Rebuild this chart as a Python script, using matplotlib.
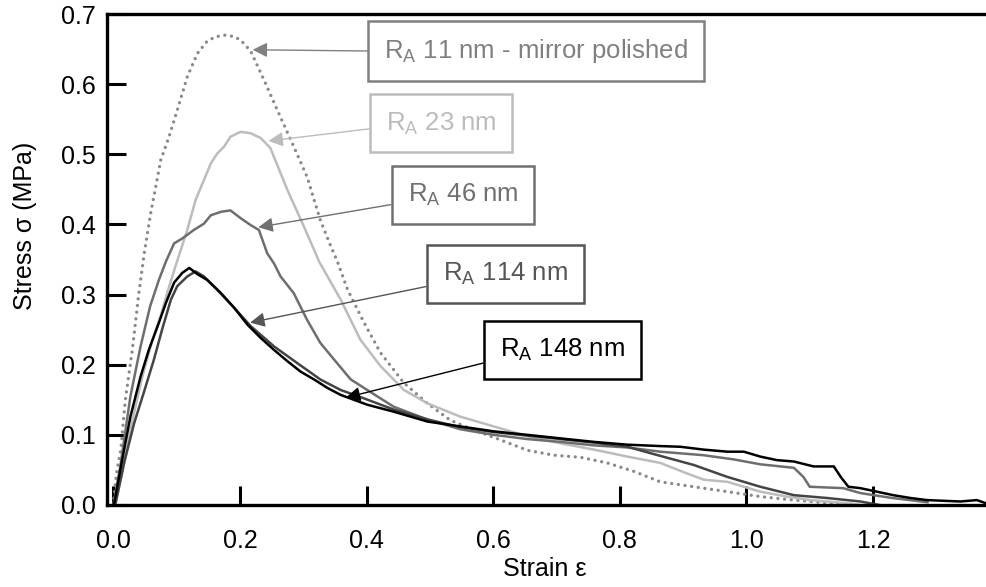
import matplotlib
matplotlib.use("Agg")
import matplotlib.pyplot as plt

plt.rcParams['font.family'] = ['Liberation Sans', 'DejaVu Sans']
plt.rcParams['mathtext.fontset'] = 'custom'
plt.rcParams['mathtext.rm'] = 'Liberation Sans'
plt.rcParams['mathtext.it'] = 'Liberation Sans:italic'
plt.rcParams['mathtext.default'] = 'regular'

# ---- data ----
x11 = [0.0, 0.003, 0.006, 0.012, 0.016, 0.019, 0.027, 0.030, 0.040, 0.049, 0.059, 0.075, 0.088, 0.101,
       0.117, 0.133, 0.148, 0.160, 0.175, 0.190, 0.201, 0.217, 0.238, 0.259, 0.285, 0.306, 0.327, 0.343,
       0.354, 0.370, 0.396, 0.422, 0.459, 0.496, 0.532, 0.569, 0.611, 0.654, 0.696, 0.738, 0.780, 0.822,
       0.864, 0.917, 0.970, 1.022, 1.075, 1.127, 1.17]
y11 = [0.0, 0.03, 0.05, 0.08, 0.121, 0.15, 0.202, 0.221, 0.30, 0.36, 0.416, 0.492, 0.525, 0.563,
       0.611, 0.644, 0.661, 0.667, 0.670, 0.668, 0.663, 0.647, 0.606, 0.563, 0.511, 0.468, 0.406, 0.370,
       0.347, 0.307, 0.260, 0.217, 0.174, 0.145, 0.121, 0.107, 0.093, 0.078, 0.071, 0.068, 0.060, 0.048,
       0.033, 0.026, 0.019, 0.012, 0.007, 0.003, 0.001]

x23 = [0.003, 0.015, 0.030, 0.045, 0.060, 0.075, 0.085, 0.098, 0.106, 0.117, 0.130, 0.143, 0.154, 0.164,
       0.175, 0.185, 0.201, 0.217, 0.233, 0.248, 0.275, 0.301, 0.317, 0.325, 0.359, 0.390, 0.422, 0.459,
       0.496, 0.548, 0.601, 0.654, 0.706, 0.759, 0.812, 0.864, 0.906, 0.933, 0.970, 0.996, 1.022, 1.064,
       1.101, 1.153, 1.18]
y23 = [0.0, 0.05, 0.12, 0.18, 0.23, 0.27, 0.302, 0.340, 0.362, 0.393, 0.435, 0.463, 0.487, 0.501,
       0.511, 0.525, 0.532, 0.530, 0.523, 0.509, 0.449, 0.397, 0.364, 0.347, 0.293, 0.236, 0.198, 0.164,
       0.145, 0.126, 0.112, 0.098, 0.088, 0.079, 0.069, 0.060, 0.045, 0.036, 0.033, 0.026, 0.019, 0.012,
       0.007, 0.003, 0.0]

x46 = [0.0, 0.011, 0.027, 0.043, 0.058, 0.072, 0.083, 0.096, 0.109, 0.127, 0.143, 0.154, 0.170, 0.185,
       0.201, 0.217, 0.230, 0.243, 0.254, 0.264, 0.285, 0.306, 0.327, 0.349, 0.375, 0.401, 0.443, 0.496,
       0.548, 0.601, 0.654, 0.706, 0.759, 0.812, 0.864, 0.932, 0.98, 1.022, 1.075, 1.09, 1.10, 1.153,
       1.18, 1.23, 1.286]
y46 = [0.0, 0.055, 0.155, 0.226, 0.283, 0.321, 0.347, 0.373, 0.380, 0.392, 0.401, 0.413, 0.418, 0.420,
       0.409, 0.399, 0.392, 0.359, 0.344, 0.326, 0.302, 0.264, 0.231, 0.207, 0.179, 0.164, 0.140, 0.122,
       0.108, 0.100, 0.094, 0.090, 0.085, 0.082, 0.076, 0.071, 0.065, 0.058, 0.053, 0.040, 0.026, 0.024,
       0.017, 0.010, 0.004]

x114 = [0.003, 0.017, 0.033, 0.048, 0.064, 0.077, 0.091, 0.101, 0.117, 0.130, 0.143, 0.164, 0.191, 0.217,
        0.254, 0.291, 0.327, 0.359, 0.396, 0.443, 0.496, 0.548, 0.601, 0.654, 0.706, 0.759, 0.812, 0.864,
        0.917, 0.970, 1.022, 1.075, 1.127, 1.18, 1.21]
y114 = [0.0, 0.060, 0.117, 0.160, 0.207, 0.250, 0.293, 0.312, 0.326, 0.333, 0.326, 0.307, 0.281, 0.255,
        0.226, 0.202, 0.179, 0.164, 0.152, 0.136, 0.122, 0.111, 0.104, 0.099, 0.094, 0.089, 0.083, 0.070,
        0.057, 0.040, 0.026, 0.014, 0.010, 0.005, 0.0]

x148 = [0.001, 0.012, 0.027, 0.043, 0.056, 0.070, 0.083, 0.096, 0.109, 0.120, 0.133, 0.148, 0.170, 0.191,
        0.212, 0.233, 0.254, 0.275, 0.296, 0.317, 0.338, 0.359, 0.380, 0.401, 0.443, 0.496, 0.548, 0.601,
        0.654, 0.706, 0.759, 0.812, 0.864, 0.896, 0.932, 0.970, 0.996, 1.022, 1.048, 1.075, 1.106, 1.138,
        1.149, 1.161, 1.18, 1.206, 1.232, 1.259, 1.285, 1.338, 1.364, 1.38]
y148 = [0.0, 0.055, 0.126, 0.183, 0.221, 0.255, 0.288, 0.317, 0.331, 0.338, 0.329, 0.321, 0.302, 0.281,
        0.257, 0.238, 0.221, 0.205, 0.190, 0.179, 0.167, 0.157, 0.150, 0.143, 0.133, 0.119, 0.112, 0.105,
        0.100, 0.095, 0.090, 0.086, 0.084, 0.083, 0.079, 0.076, 0.076, 0.069, 0.064, 0.062, 0.055, 0.055,
        0.040, 0.026, 0.024, 0.019, 0.014, 0.010, 0.007, 0.005, 0.007, 0.002]

labels = ["R$_A$ 11 nm - mirror polished", "R$_A$ 23 nm", "R$_A$ 46 nm", "R$_A$ 114 nm", "R$_A$ 148 nm"]
label_pos = [(0.668, 0.647), (0.518, 0.544), (0.552, 0.442), (0.619, 0.329), (0.709, 0.221)]
arrow_tips = [(0.22, 0.649), (0.245, 0.519), (0.229, 0.396), (0.216, 0.26), (0.367, 0.153)]
arrow_rel = [0.5, 0.37, 0.24, 0.16, 0.16]

xticks = [0.0, 0.2, 0.4, 0.6, 0.8, 1.0, 1.2]
yticks = [0.0, 0.1, 0.2, 0.3, 0.4, 0.5, 0.6, 0.7]

colors = ['#8a8a8a', '#bcbcbc', '#6e6e6e', '#444444', '#000000']
box_colors = ['#808080', '#bcbcbc', '#707070', '#555555', '#000000']

fig = plt.figure(figsize=(9.87, 5.87), dpi=100)
ax = fig.add_axes([107/987, 1 - 505/587, 1 - 107/987, (505 - 14)/587])

ax.plot(x11, y11, color=colors[0], lw=2.4, linestyle=(0, (0.01, 2.0)), dash_capstyle='round')
ax.plot(x23, y23, color=colors[1], lw=1.8)
ax.plot(x46, y46, color=colors[2], lw=1.8)
ax.plot(x114, y114, color=colors[3], lw=1.8)
ax.plot(x148, y148, color=colors[4], lw=1.8)

for lab, pos, tip, rel, bc in zip(labels, label_pos, arrow_tips, arrow_rel, box_colors):
    ax.annotate(lab, xy=tip, xytext=pos, textcoords='data', ha='center', va='center',
                fontsize=18.5, color=bc,
                bbox=dict(boxstyle='square,pad=0.62', fc='white', ec=bc, lw=1.8),
                arrowprops=dict(arrowstyle='-|>', color=bc, lw=1.0, mutation_scale=22,
                                shrinkA=0, shrinkB=0, relpos=(0, rel)))

ax.set_xlim(-0.01, 1.38)
ax.set_ylim(0, 0.7)
ax.set_xticks(xticks)
ax.set_yticks(yticks)
ax.set_xticklabels([f"{v:.1f}" for v in xticks])
ax.set_yticklabels([f"{v:.1f}" for v in yticks])
ax.tick_params(direction='in', length=14, width=2.2, labelsize=18, pad=8)
ax.tick_params(axis='x', pad=17)
ax.spines['right'].set_visible(False)
for s in ['left', 'bottom', 'top']:
    ax.spines[s].set_linewidth(2.4)

ax.set_xlabel("Strain ε", fontsize=18)
ax.set_ylabel("Stress σ (MPa)", fontsize=18)
ax.xaxis.set_label_coords(0.498, -0.106)
ax.yaxis.set_label_coords(-0.079, 0.568)

fig.savefig("out.png", dpi=100)
